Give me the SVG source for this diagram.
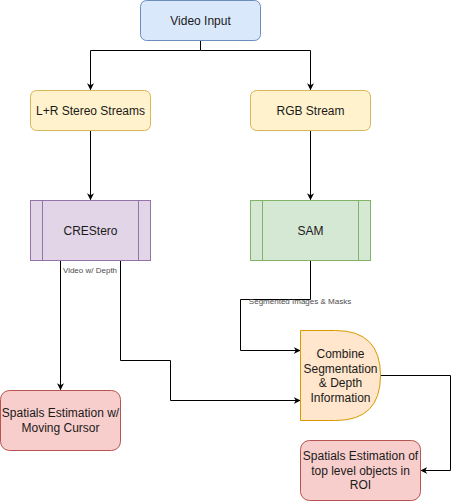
<svg xmlns="http://www.w3.org/2000/svg" width="459" height="502" viewBox="0 0 459 502">
<defs>
<style>
text{font-family:"Liberation Sans",Arial,sans-serif;font-size:12px;fill:#1a1a1a;text-anchor:middle}
.lbl{font-size:8px;fill:#4d4d4d}
.edge{fill:none;stroke:#000;stroke-width:1}
.blue{fill:#dae8fc;stroke:#6c8ebf}
.yel{fill:#fff2cc;stroke:#d6b656}
.pur{fill:#e1d5e7;stroke:#9673a6}
.grn{fill:#d5e8d4;stroke:#82b366}
.org{fill:#ffe6cc;stroke:#d79b00}
.red{fill:#f8cecc;stroke:#b85450}
</style>
<marker id="arr" viewBox="0 0 10 10" refX="9" refY="5" markerWidth="7" markerHeight="7" orient="auto" markerUnits="userSpaceOnUse">
<path d="M0 0 L10 5 L0 10 L3 5 Z" fill="#000"/>
</marker>
</defs>
<g id="connectors">
<path class="edge" d="M200.5 40.5 V50.5 H90.5 V89.5" marker-end="url(#arr)"/>
<path class="edge" d="M200.5 50.5 H310.5 V89.5" marker-end="url(#arr)"/>
<path class="edge" d="M90.5 130.5 V199.5" marker-end="url(#arr)"/>
<path class="edge" d="M310.5 130.5 V199.5" marker-end="url(#arr)"/>
<path class="edge" d="M60.5 260.5 V389.5" marker-end="url(#arr)"/>
<path class="edge" d="M120.5 260.5 V360.5 H170.5 V400.5 H300" marker-end="url(#arr)"/>
<path class="edge" d="M310.5 260.5 V299.5 H240.5 V350.5 H300" marker-end="url(#arr)"/>
<path class="edge" d="M380 375.5 H450.5 V470.5 H421" marker-end="url(#arr)"/>
<text class="lbl" x="90" y="273">Video w/ Depth</text>
<text class="lbl" x="300" y="304">Segmented Images &amp; Masks</text>
</g>
<g id="video-input"><rect class="blue" x="140.5" y="0.5" width="120" height="40" rx="6"/><text x="200.5" y="24.5">Video Input</text></g>
<g id="lr-stereo"><rect class="yel" x="30.5" y="90.5" width="120" height="40" rx="6"/><text x="90.5" y="114.5">L+R Stereo Streams</text></g>
<g id="rgb-stream"><rect class="yel" x="250.5" y="90.5" width="120" height="40" rx="6"/><text x="310.5" y="114.5">RGB Stream</text></g>
<g id="crestero"><rect class="pur" x="30.5" y="200.5" width="120" height="60"/><path class="pur" d="M42.5 200.5 V260.5 M138.5 200.5 V260.5" fill="none"/><text x="90.5" y="234.5">CREStero</text></g>
<g id="sam"><rect class="grn" x="250.5" y="200.5" width="120" height="60"/><path class="grn" d="M262.5 200.5 V260.5 M358.5 200.5 V260.5" fill="none"/><text x="310.5" y="234.5">SAM</text></g>
<g id="combine"><path class="org" d="M300.5 330.5 H335.5 Q380.5 330.5 380.5 375.5 Q380.5 420.5 335.5 420.5 H300.5 Z"/>
<text x="340.5" y="358">Combine</text><text x="340.5" y="372.5">Segmentation</text><text x="340.5" y="387">&amp; Depth</text><text x="340.5" y="401.5">Information</text></g>
<g id="spatials-cursor"><rect class="red" x="0.5" y="390.5" width="120" height="60" rx="9"/><text x="60.5" y="417">Spatials Estimation w/</text><text x="60.5" y="432">Moving Cursor</text></g>
<g id="spatials-roi"><rect class="red" x="300.5" y="440.5" width="120" height="60" rx="9"/><text x="360.5" y="460">Spatials Estimation of</text><text x="360.5" y="474.5">top level objects in</text><text x="360.5" y="489">ROI</text></g>
</svg>
